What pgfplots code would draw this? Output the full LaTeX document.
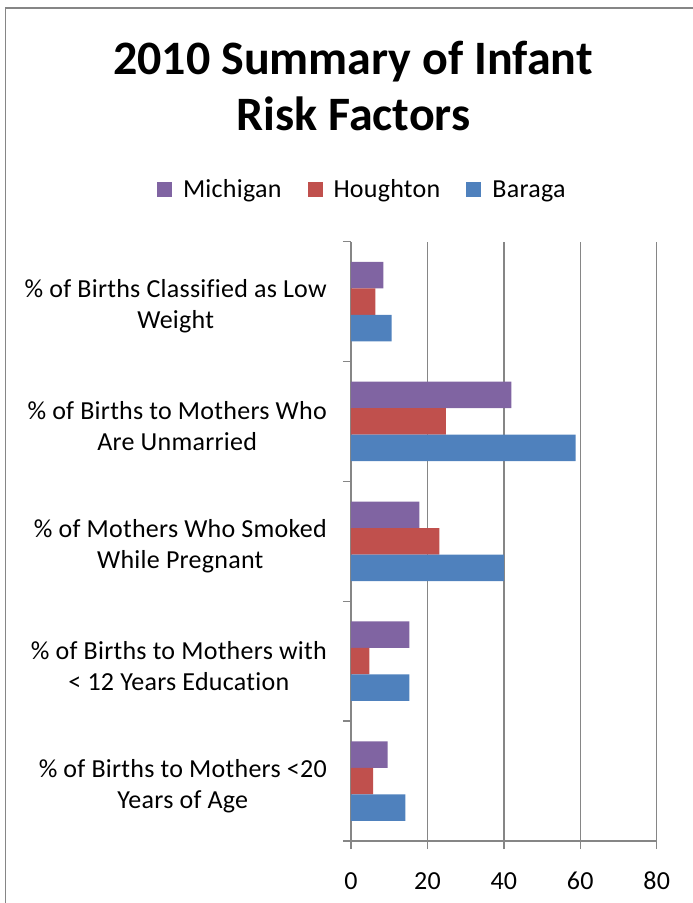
\documentclass[border=0pt]{standalone}
\usepackage{fontspec}
\setmainfont{Carlito}[Ligatures=NoCommon]
\newfontfamily\lblfont{Carlito}[Ligatures=NoCommon, LetterSpace=1]
\usepackage{pgfplots}
\pgfplotsset{compat=1.18}
\definecolor{cMich}{HTML}{8064A2}
\definecolor{cHough}{HTML}{C0504D}
\definecolor{cBar}{HTML}{4F81BD}
\definecolor{cGrid}{HTML}{868686}
\begin{document}
\begin{tikzpicture}[x=1pt,y=1pt]
\path[use as bounding box] (0,0) rectangle (693,903);
\draw[cGrid, line width=1.5pt] (5.5,-30) -- (5.5,895) -- (730,895);
\begin{axis}[
  at={(351pt,62pt)}, anchor=south west,
  scale only axis, width=305.7pt, height=599.3pt,
  xbar, bar width=26.5pt,
  xmin=0, xmax=80, ymin=-0.5, ymax=4.5,
  xtick={0,20,40,60,80},
  ytick={-0.5,0.5,1.5,2.5,3.5,4.5},
  yticklabels={,,,,,},
  extra y ticks={0,1,2,3,4},
  extra y tick labels={{\% of Births to Mothers <20\\Years of Age},{\% of Births to Mothers with\\< 12 Years Education},{\% of Mothers Who Smoked\\While Pregnant},{\% of Births to Mothers Who\\Are Unmarried},{\% of Births Classified as Low\\Weight}},
  extra y tick style={major tick length=0pt, grid=none,
     yticklabel style={align=center, anchor=east, inner sep=0pt, xshift=-24pt, yshift=-5pt, font=\lblfont\fontsize{26}{31}\selectfont}},
  axis x line*=bottom, axis y line*=left,
  x axis line style={-}, y axis line style={-},
  axis line style={cGrid, line width=1.5pt},
  tick style={cGrid, line width=1.5pt},
  major tick length=8pt, tick align=outside,
  xmajorgrids, major grid style={cGrid, line width=1.5pt},
  /pgf/number format/assume math mode=true,
  xticklabel style={anchor=north, inner sep=0pt, yshift=-23pt, font=\lblfont\fontsize{26}{31}\selectfont},
  legend columns=3,
  legend image code/.code={\fill[#1] (0pt,-7.5pt) rectangle (15pt,7.5pt);},
  legend style={at={(axis description cs:-0.6346,1.0871)}, anchor=west, draw=none, fill=none,
     inner sep=0pt, outer sep=0pt, column sep=0pt,
     font=\lblfont\fontsize{26}{31}\selectfont,
     /tikz/every odd column/.append style={column sep=9pt},
     /tikz/every even column/.append style={column sep=24pt}},
]
\addplot[fill=cMich, draw=none, bar shift=26.5pt] coordinates {(9.6,0) (15.3,1) (17.9,2) (42.0,3) (8.5,4)};
\addplot[fill=cHough, draw=none, bar shift=0pt] coordinates {(5.8,0) (4.8,1) (23.1,2) (24.8,3) (6.4,4)};
\addplot[fill=cBar, draw=none, bar shift=-26.5pt] coordinates {(14.2,0) (15.3,1) (40.0,2) (58.8,3) (10.6,4)};
\legend{Michigan,Houghton,Baraga}
\end{axis}
\node[anchor=base, font=\fontsize{48}{56}\bfseries] at (353,828) {2010 Summary of Infant};
\node[anchor=base, font=\fontsize{48}{56}\bfseries] at (353.5,772) {Risk Factors};
\end{tikzpicture}
\end{document}
